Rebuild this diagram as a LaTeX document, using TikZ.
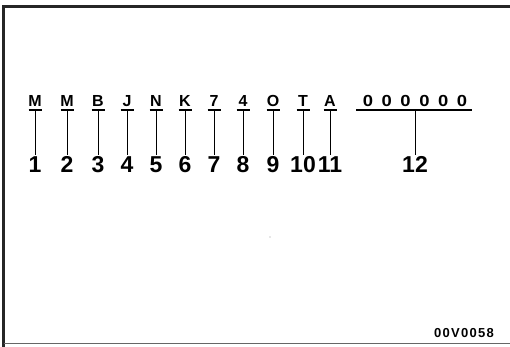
\documentclass[tikz,border=0pt]{standalone}
\usepackage{fontspec}
\setmainfont{Liberation Sans}
\begin{document}
\begin{tikzpicture}[x=1pt,y=-1pt,
  letter/.style={anchor=south, inner xsep=0pt, inner ysep=3.5pt, font=\fontsize{16}{16}\selectfont\bfseries},
  zeros/.style={anchor=south, inner xsep=0pt, inner ysep=3.5pt, font=\fontsize{16}{16}\selectfont\bfseries},
  digit/.style={anchor=north, inner sep=1pt, font=\fontsize{23}{23}\selectfont\bfseries},
  bar/.style={line width=1.1pt},
  link/.style={line width=0.8pt},
  tag/.style={font=\fontsize{13}{13}\selectfont\bfseries\addfontfeature{LetterSpace=10}}]
\useasboundingbox (0,0) rectangle (510,347);
% frame
\draw[line width=2.5pt, black!85] (3.5,347) -- (3.5,6.5) -- (510,6.5);
\draw[line width=1.5pt, black!60] (3.5,343.5) -- (510,343.5);
% letters, digits, connectors
\foreach \x/\c/\d/\i in {35/M/1/1, 67/M/2/2, 98/B/3/3, 127/J/4/4, 156/N/5/5, 185/K/6/6, 214/7/7/7, 243/4/8/8, 273/O/9/9, 303/T/10/10, 330/A/11/11}{
  \node[letter] (l\i) at (\x,110) {\c};
  \node[digit] (n\i) at (\x,155) {\d};
  \draw[bar] ([xshift=-6.5pt]l\i.south) -- ([xshift=6.5pt]l\i.south);
  \draw[link] (l\i.south) -- (n\i.north);
}
\node[zeros] (l12) at (415,110) {\makebox[18.8pt]{\scalebox{1.15}[1]{0}}\makebox[18.8pt]{\scalebox{1.15}[1]{0}}\makebox[18.8pt]{\scalebox{1.15}[1]{0}}\makebox[18.8pt]{\scalebox{1.15}[1]{0}}\makebox[18.8pt]{\scalebox{1.15}[1]{0}}\makebox[18.8pt]{\scalebox{1.15}[1]{0}}};
\node[digit] (n12) at (415,155) {12};
\draw[bar] ([xshift=-59pt]l12.south) -- ([xshift=57pt]l12.south);
\draw[link] (l12.south) -- (n12.north);
% stray dot
\fill[black!40] (270,237) circle (0.6pt);
% figure code
\node[tag] (code) at (464,333) {00V0058};
\end{tikzpicture}
\end{document}
